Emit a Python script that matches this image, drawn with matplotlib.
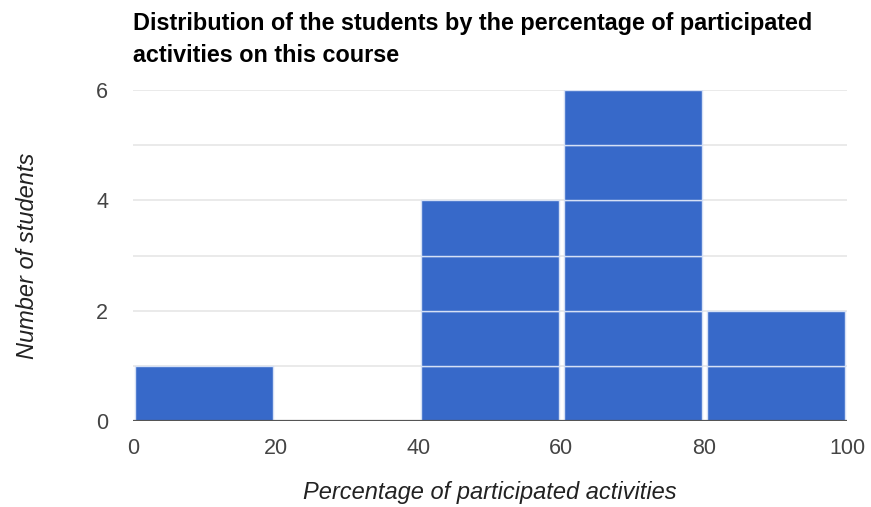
import matplotlib.pyplot as plt
from matplotlib.patches import Rectangle

bin_edges = [0, 20, 40, 60, 80, 100]
counts = [1, 0, 4, 6, 2]
y_ticks = [0, 2, 4, 6]
x_ticks = [0, 20, 40, 60, 80, 100]

title = "Distribution of the students by the percentage of participated\nactivities on this course"
x_label = "Percentage of participated activities"
y_label = "Number of students"

plt.rcParams['font.family'] = ['Liberation Sans', 'DejaVu Sans']

fig = plt.figure(figsize=(8.71, 5.07), dpi=100)
ax = fig.add_axes([133/871, 1 - 421/507, 714/871, 331/507])

# light grid at every unit
for y in range(0, 7):
	ax.axhline(y, color='#e6e6e6', lw=1.2, zorder=0)

# each student is one stacked block inside its bin
gap = 0.35
for i, c in enumerate(counts):
	x0 = bin_edges[i] + gap
	w = bin_edges[i+1] - bin_edges[i] - 2*gap
	for k in range(c):
		ax.add_patch(Rectangle((x0, k), w, 1, facecolor='#3769c9',
			edgecolor='#d5e0f5', lw=1.0, zorder=2))

ax.axhline(0, color='#555555', lw=1.6, zorder=3)

ax.set_xlim(0, 100)
ax.set_ylim(0, 6)
ax.set_xticks(x_ticks)
ax.set_yticks(y_ticks)
ax.tick_params(length=0, labelsize=15.5, colors='#444444', pad=12)
ax.tick_params(axis='y', pad=18)
for s in ax.spines.values():
	s.set_visible(False)

ax.set_xlabel(x_label, fontsize=17, style='italic', color='#222222', labelpad=16)
ax.set_ylabel(y_label, fontsize=17, style='italic', color='#222222', labelpad=41)

fig.text(133/871, 1 - 12/507, title, fontsize=16.8, fontweight='bold',
	ha='left', va='top', linespacing=1.5)

fig.savefig('out.png', dpi=100)
